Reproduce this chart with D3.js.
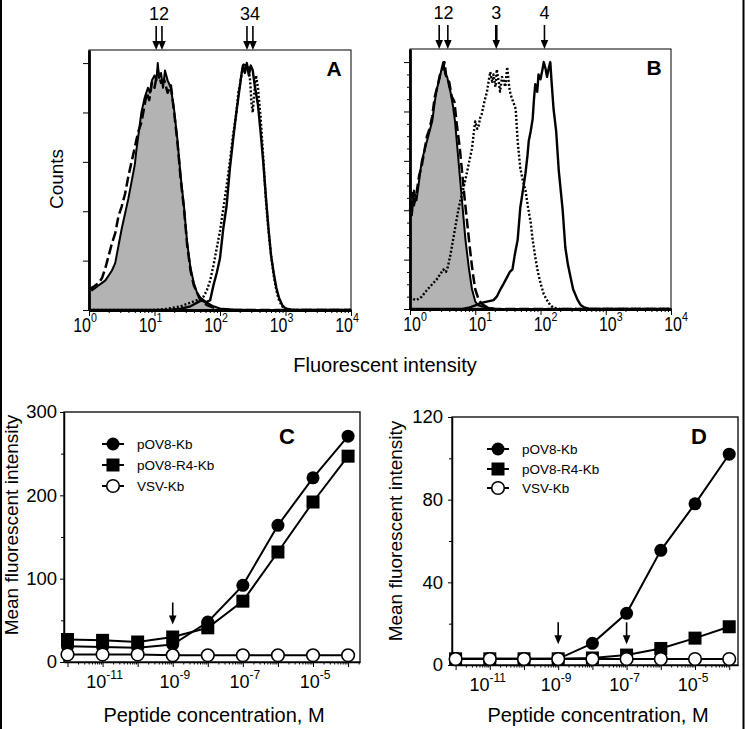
<!DOCTYPE html>
<html><head><meta charset="utf-8">
<script src="https://cdn.jsdelivr.net/npm/d3@7"></script>
<style>
html,body{margin:0;padding:0;background:#fff;}
svg{display:block;font-family:Arial,"Liberation Sans",Helvetica,sans-serif;}
</style></head><body>
<svg id="chart" width="746" height="729"></svg>
<script>
// ---------------- DATA ----------------
// Histograms: [log10 fluorescent intensity, relative counts]
const histA1 = [[0,9],[0.05,8],[0.1,9],[0.15,10],[0.2,11],[0.25,12],[0.3,14],[0.35,16],[0.4,19],[0.45,26],[0.5,33],[0.55,39],[0.6,45],[0.65,52],[0.7,59],[0.72,64],[0.75,70],[0.8,80],[0.85,86],[0.9,90],[0.93,88],[0.96,93],[1.0,95],[1.03,93],[1.05,100],[1.07,94],[1.1,96],[1.13,90],[1.16,97],[1.2,93],[1.25,90],[1.3,81],[1.35,69],[1.4,54],[1.45,42],[1.5,27],[1.55,17],[1.6,11],[1.65,7],[1.7,5],[1.8,3],[1.9,1.5],[2.0,0.6],[2.2,0.2],[2.5,0],[4,0]];
const histA2 = [[0,9],[0.05,9],[0.1,10],[0.15,11],[0.2,13],[0.25,17],[0.3,22],[0.35,27],[0.4,31],[0.45,38],[0.5,42],[0.55,47],[0.6,54],[0.65,60],[0.7,66],[0.75,72],[0.8,76],[0.85,83],[0.88,88],[0.92,85],[0.96,92],[1.0,90],[1.05,97],[1.1,92],[1.15,93],[1.2,88],[1.25,91],[1.3,80],[1.35,68],[1.4,53],[1.45,41],[1.5,26],[1.55,16],[1.6,10],[1.7,4],[1.8,2],[1.9,1],[2.0,0.3],[2.2,0],[4,0]];
const histA3 = [[0,0],[1.0,0],[1.2,0.5],[1.4,1.5],[1.5,2.5],[1.6,3.5],[1.7,4.5],[1.75,5.5],[1.8,8],[1.85,12],[1.9,18],[1.95,25],[2.0,32],[2.05,41],[2.1,50],[2.15,60],[2.2,71],[2.25,80],[2.28,88],[2.31,92],[2.34,97],[2.37,100],[2.4,98],[2.43,99],[2.46,93],[2.48,84],[2.5,80],[2.52,87],[2.55,95],[2.58,90],[2.62,78],[2.66,62],[2.7,45],[2.74,32],[2.78,22],[2.82,14],[2.86,8],[2.9,4],[2.95,1.5],[3.0,0.5],[3.1,0],[4,0]];
const histA4 = [[0,0],[1.2,0],[1.4,0.5],[1.55,1.5],[1.65,3],[1.72,4],[1.78,3],[1.85,4],[1.9,10],[1.95,15],[2.0,21],[2.05,33],[2.1,42],[2.15,57],[2.2,69],[2.25,80],[2.28,86],[2.32,94],[2.35,99],[2.38,96],[2.41,100],[2.44,95],[2.47,99],[2.5,97],[2.53,91],[2.58,83],[2.62,72],[2.66,60],[2.7,46],[2.74,33],[2.78,22],[2.82,15],[2.86,9],[2.9,5],[2.95,2],[3.0,0.6],[3.1,0],[4,0]];

const histB1 = [[0,45],[0.03,38],[0.06,48],[0.1,44],[0.14,52],[0.18,60],[0.22,64],[0.26,68],[0.3,72],[0.34,76],[0.38,84],[0.41,89],[0.45,93],[0.49,98],[0.51,100],[0.54,95],[0.57,94],[0.6,90],[0.62,88],[0.66,82],[0.69,76],[0.73,64],[0.77,52],[0.81,40],[0.85,28],[0.9,17],[0.95,8],[1.0,3],[1.05,1.5],[1.1,1],[1.2,0.5],[1.3,0],[4,0]];
const histB2 = [[0,40],[0.03,47],[0.06,42],[0.1,47],[0.14,54],[0.18,58],[0.22,64],[0.26,70],[0.3,73],[0.34,78],[0.38,86],[0.42,90],[0.46,95],[0.5,97],[0.53,100],[0.56,93],[0.6,92],[0.64,86],[0.68,84],[0.72,74],[0.76,66],[0.8,55],[0.84,44],[0.88,34],[0.92,24],[0.96,15],[1.0,8],[1.05,4],[1.1,2],[1.2,0.5],[1.3,0],[4,0]];
const histB3 = [[0,5],[0.05,4],[0.1,3.6],[0.18,5],[0.26,7.7],[0.34,10],[0.41,12],[0.46,14],[0.51,16],[0.55,15],[0.58,17],[0.62,22],[0.66,28],[0.7,34],[0.74,40],[0.78,45],[0.82,49],[0.87,55],[0.91,60],[0.95,65],[0.98,72],[1.0,76],[1.03,73],[1.05,74],[1.08,78],[1.1,79],[1.14,84],[1.18,88],[1.21,93],[1.23,96],[1.26,92],[1.28,95],[1.31,90],[1.33,97],[1.36,92],[1.38,88],[1.41,94],[1.43,93],[1.46,90],[1.49,98],[1.52,90],[1.54,87],[1.58,84],[1.62,81],[1.65,68],[1.69,57],[1.73,52],[1.77,48],[1.81,41],[1.85,35],[1.88,28],[1.92,21],[1.96,15],[2.0,10.5],[2.05,6],[2.1,3.6],[2.15,1.5],[2.2,0.5],[2.3,0],[4,0]];
const histB4 = [[0,0],[0.8,0],[0.9,0.5],[1.0,1.5],[1.08,2.4],[1.18,3],[1.28,3.6],[1.33,5],[1.38,7.7],[1.43,10],[1.49,13],[1.53,15],[1.57,16],[1.6,21],[1.62,24],[1.65,28],[1.69,41],[1.73,48],[1.77,55],[1.8,62],[1.82,68],[1.85,72],[1.88,77],[1.9,85],[1.92,91],[1.95,88],[1.97,95],[2.0,93],[2.03,97],[2.05,100],[2.08,97],[2.1,94],[2.13,98],[2.15,100],[2.17,92],[2.2,81],[2.24,72],[2.28,56],[2.31,48],[2.34,40],[2.38,25],[2.42,18],[2.46,13],[2.5,8],[2.57,3.6],[2.62,1.5],[2.66,0.8],[2.75,0],[4,0]];

const histDecades = [0,1,2,3,4];
const histCountTicks = [0,20,40,60,80,100];
const histCountMinorB = [5,10,15,25,30,35,45,50,55,65,70,75,85,90,95];
const histArrowsA = [10.6, 13, 258, 318];
const histArrowTextA = [{text:"12", idx:[0,1]}, {text:"34", idx:[2,3]}];
const histArrowsB = [2.8, 3.8, 21, 115];
const histArrowTextB = [{text:"12", idx:[0,1]}, {text:"3", idx:[2]}, {text:"4", idx:[3]}];

// Dose response
const seriesNames = ["pOV8-Kb", "pOV8-R4-Kb", "VSV-Kb"];
const doseConc = [1e-12,1e-11,1e-10,1e-9,1e-8,1e-7,1e-6,1e-5,1e-4];
const doseC_pOV8 = [19,18,17,21,48,92,164,221,271];
const doseC_R4 = [27,26,24,30,41,73,132,192,247];
const doseC_VSV = [9,9,9,8,8,8,8,8,8];
const doseD_pOV8 = [3,3,3,3,10.5,25,55.5,78,102];
const doseD_R4 = [3,3,3,3,3.4,4.8,8,13,18.5];
const doseD_VSV = [2.9,2.9,2.9,2.9,2.9,2.9,2.9,2.9,2.9];
const doseTickExp = [-12,-11,-10,-9,-8,-7,-6,-5,-4];
const doseLabelExp = [-11,-9,-7,-5];
const doseYTicksC = [0,100,200,300];
const doseYMinorC = [50,150,250];
const doseYTicksD = [0,40,80,120];
const doseYMinorD = [20,60,100];
const arrowsC = [[1e-9, 45]];
const arrowsD = [[1e-9, 10], [1e-7, 10]];

// ---------------- DRAW ----------------
const svg = d3.select("#chart");
svg.append("rect").attr("width",746).attr("height",729).attr("fill","#fff");
// outer frame lines
svg.append("line").attr("x1",1).attr("x2",1).attr("y1",0).attr("y2",729).attr("stroke","#000").attr("stroke-width",2);
svg.append("line").attr("x1",743.5).attr("x2",743.5).attr("y1",0).attr("y2",729).attr("stroke","#000").attr("stroke-width",2);

function powLabel(parent, x, y, exp, baseSize, supSize, sx) {
  const t = parent.append("text")
    .attr("transform", `translate(${x},${y}) scale(${sx},1)`)
    .attr("text-anchor","middle").attr("font-size",baseSize).attr("fill","#000");
  t.append("tspan").text("10");
  t.append("tspan").attr("font-size",supSize).attr("dy",-baseSize*0.5).text(exp);
}

function arrowDown(parent, x, tipY, len, w) {
  parent.append("line").attr("x1",x).attr("x2",x).attr("y1",tipY-len).attr("y2",tipY-6)
    .attr("stroke","#000").attr("stroke-width",w);
  parent.append("path").attr("d",`M${x-3.8},${tipY-9}L${x+3.8},${tipY-9}L${x},${tipY}Z`).attr("fill","#000");
}

function histPanel(o) {
  const x = d3.scaleLog().domain([1,1e4]).range([o.left,o.right]);
  const y = d3.scaleLinear().domain([0,105.3]).range([o.bottom,o.top]);
  const g = svg.append("g");
  const px = d => x(Math.pow(10,d[0]));
  g.append("path").datum(o.fill)
    .attr("d", d3.area().x(px).y0(y(0)).y1(d=>y(d[1])))
    .attr("fill","#b3b3b3");
  o.curves.forEach(c => {
    g.append("path").datum(c.data)
      .attr("d", d3.line().x(px).y(d=>y(d[1])))
      .attr("fill","none").attr("stroke","#000").attr("stroke-width",c.w)
      .attr("stroke-dasharray",c.dash||null).attr("stroke-linejoin","round");
  });
  g.append("rect").attr("x",o.left).attr("y",o.top).attr("width",o.right-o.left).attr("height",o.bottom-o.top)
    .attr("fill","none").attr("stroke","#000").attr("stroke-width",1);
  // y axis
  const ya = g.append("g").attr("transform",`translate(${o.left},0)`)
    .call(d3.axisLeft(y).tickValues(histCountTicks).tickSize(6).tickSizeOuter(0).tickFormat(""));
  ya.select(".domain").attr("stroke-width",2.8);
  ya.selectAll(".tick line").attr("stroke-width",1);
  if (o.minorY) {
    const ym = g.append("g").attr("transform",`translate(${o.left},0)`)
      .call(d3.axisLeft(y).tickValues(o.minorY).tickSize(3).tickSizeOuter(0).tickFormat(""));
    ym.select(".domain").remove();
  }
  // x axis
  const xa = g.append("g").attr("transform",`translate(0,${o.bottom})`)
    .call(d3.axisBottom(x).tickValues(histDecades.map(e=>Math.pow(10,e))).tickSize(6).tickSizeOuter(0).tickFormat(""));
  xa.select(".domain").attr("stroke-width",2.8);
  const minors = [];
  histDecades.slice(0,-1).forEach(e => { for (let k=2;k<=9;k++) minors.push(k*Math.pow(10,e)); });
  const xm = g.append("g").attr("transform",`translate(0,${o.bottom})`)
    .call(d3.axisBottom(x).tickValues(minors).tickSize(3).tickSizeOuter(0).tickFormat(""));
  xm.select(".domain").remove();
  histDecades.forEach(e => powLabel(g, x(Math.pow(10,e)) + o.labelDx, o.bottom + 22, String(e), 19.5, 13, 0.82));
  // arrows
  o.arrows.forEach((v,i) => arrowDown(g, x(v), o.top, 24, o.arrowW ? o.arrowW[i] : 1.6));
  o.arrowText.forEach(a => {
    const cx = d3.mean(a.idx.map(i=>x(o.arrows[i])));
    g.append("text").attr("x",cx).attr("y",o.top-30).attr("text-anchor","middle")
      .attr("font-size",18).text(a.text);
  });
  g.append("text").attr("x",o.tagX).attr("y",o.top+26).attr("text-anchor","middle")
    .attr("font-size",21).attr("font-weight","bold").text(o.tag);
}

histPanel({left:89,right:351,top:50,bottom:310,fill:histA1,
  curves:[{data:histA1,w:2},{data:histA2,w:2.5,dash:"10,4"},{data:histA3,w:2.4,dash:"2,2"},{data:histA4,w:2.4}],
  arrows:histArrowsA, arrowText:histArrowTextA, tag:"A", tagX:334, labelDx:-4});
histPanel({left:410,right:671,top:49,bottom:309,fill:histB1,minorY:histCountMinorB,
  curves:[{data:histB1,w:2},{data:histB2,w:2.5,dash:"10,4"},{data:histB3,w:2.4,dash:"2,2"},{data:histB4,w:2.4}],
  arrows:histArrowsB, arrowText:histArrowTextB, arrowW:[1.6,1.6,2.6,1.6], tag:"B", tagX:654, labelDx:5});

svg.append("text").attr("transform","translate(63,179) rotate(-90)").attr("text-anchor","middle")
  .attr("font-size",19).text("Counts");
svg.append("text").attr("x",385).attr("y",372).attr("text-anchor","middle")
  .attr("font-size",20).text("Fluorescent intensity");

function dosePanel(o) {
  const x = d3.scaleLog().domain(o.xdom).range([o.left,o.right]);
  const y = d3.scaleLinear().domain([0,o.ymax]).range([o.bottom,o.top]);
  const g = svg.append("g");
  g.append("rect").attr("x",o.left).attr("y",o.top).attr("width",o.right-o.left).attr("height",o.bottom-o.top)
    .attr("fill","none").attr("stroke","#000").attr("stroke-width",1.3);
  const ya = g.append("g").attr("transform",`translate(${o.left},0)`)
    .call(d3.axisLeft(y).tickValues(o.yTicks).tickSize(4).tickPadding(o.yPad).tickSizeOuter(0));
  ya.select(".domain").attr("stroke-width",1.5);
  ya.selectAll("text").attr("font-size",18.5).attr("font-family",null).attr("fill","#000");
  const ym = g.append("g").attr("transform",`translate(${o.left},0)`)
    .call(d3.axisLeft(y).tickValues(o.yMinor).tickSize(3).tickSizeOuter(0).tickFormat(""));
  ym.select(".domain").remove();
  const xa = g.append("g").attr("transform",`translate(0,${o.bottom})`)
    .call(d3.axisBottom(x).tickValues(doseTickExp.map(e=>Math.pow(10,e))).tickSize(5).tickSizeOuter(0).tickFormat(""));
  xa.select(".domain").attr("stroke-width",1.5);
  const minors = [];
  doseTickExp.forEach(e => { for (let k=2;k<=9;k++) { const v=k*Math.pow(10,e); if (v<o.xdom[1]) minors.push(v);} });
  const xm = g.append("g").attr("transform",`translate(0,${o.bottom})`)
    .call(d3.axisBottom(x).tickValues(minors).tickSize(2.5).tickSizeOuter(0).tickFormat(""));
  xm.select(".domain").remove();
  doseLabelExp.forEach(e => powLabel(g, x(Math.pow(10,e)) + o.labelDx, o.bottom + 26, String(e), 18, 12, 1));

  const shapes = ["filled","square","open"];
  const vals = [o.s1, o.s2, o.s3];
  vals.forEach((arr,si) => {
    const pts = doseConc.map((c,i)=>[c,arr[i]]);
    g.append("path").datum(pts).attr("d", d3.line().x(d=>x(d[0])).y(d=>y(d[1])))
      .attr("fill","none").attr("stroke","#000").attr("stroke-width",2);
    pts.forEach(p => drawMarker(g, shapes[si], x(p[0]), y(p[1])));
  });
  // legend
  seriesNames.forEach((nm,i) => {
    const ly = o.legendY[i];
    g.append("line").attr("x1",o.legendX-11).attr("x2",o.legendX+11).attr("y1",ly).attr("y2",ly)
      .attr("stroke","#000").attr("stroke-width",2);
    drawMarker(g, shapes[i], o.legendX, ly);
    g.append("text").attr("x",o.legendX+24).attr("y",ly+5).attr("font-size",13.5).text(nm);
  });
  o.arrows.forEach(a => arrowDown(g, x(a[0]), y(a[1]), 22, 1.6));
  g.append("text").attr("x",o.tagX).attr("y",o.tagY).attr("text-anchor","middle")
    .attr("font-size",22).attr("font-weight","bold").text(o.tag);
  g.append("text").attr("transform",`translate(${o.yLabelX},${o.yLabelY}) rotate(-90)`).attr("text-anchor","middle")
    .attr("font-size",19).text("Mean fluorescent intensity");
  g.append("text").attr("x",o.xLabelX).attr("y",722).attr("text-anchor","middle")
    .attr("font-size",20).text("Peptide concentration, M");
}

function drawMarker(g, shape, cx, cy) {
  if (shape === "square") {
    g.append("rect").attr("x",cx-6.5).attr("y",cy-6.5).attr("width",13).attr("height",13).attr("fill","#000");
  } else if (shape === "filled") {
    g.append("circle").attr("cx",cx).attr("cy",cy).attr("r",6.5).attr("fill","#000");
  } else {
    g.append("circle").attr("cx",cx).attr("cy",cy).attr("r",6.3).attr("fill","#fff").attr("stroke","#000").attr("stroke-width",1.6);
  }
}

dosePanel({left:64,right:360,top:412,bottom:662,xdom:[Math.pow(10,-12.1),Math.pow(10,-3.66)],ymax:300,
  yTicks:doseYTicksC,yMinor:doseYMinorC,yPad:3,labelDx:2,s1:doseC_pOV8,s2:doseC_R4,s3:doseC_VSV,
  legendX:113,legendY:[444,465,486],arrows:arrowsC,tag:"C",tagX:287,tagY:444,
  yLabelX:18,yLabelY:525,xLabelX:214});
dosePanel({left:452,right:738,top:417,bottom:665,xdom:[Math.pow(10,-12.105),Math.pow(10,-3.743)],ymax:120,
  yTicks:doseYTicksD,yMinor:doseYMinorD,yPad:5,labelDx:-2,s1:doseD_pOV8,s2:doseD_R4,s3:doseD_VSV,
  legendX:498,legendY:[449,469,488],arrows:arrowsD,tag:"D",tagX:699,tagY:444,
  yLabelX:402,yLabelY:531,xLabelX:598});
</script>
</body></html>
